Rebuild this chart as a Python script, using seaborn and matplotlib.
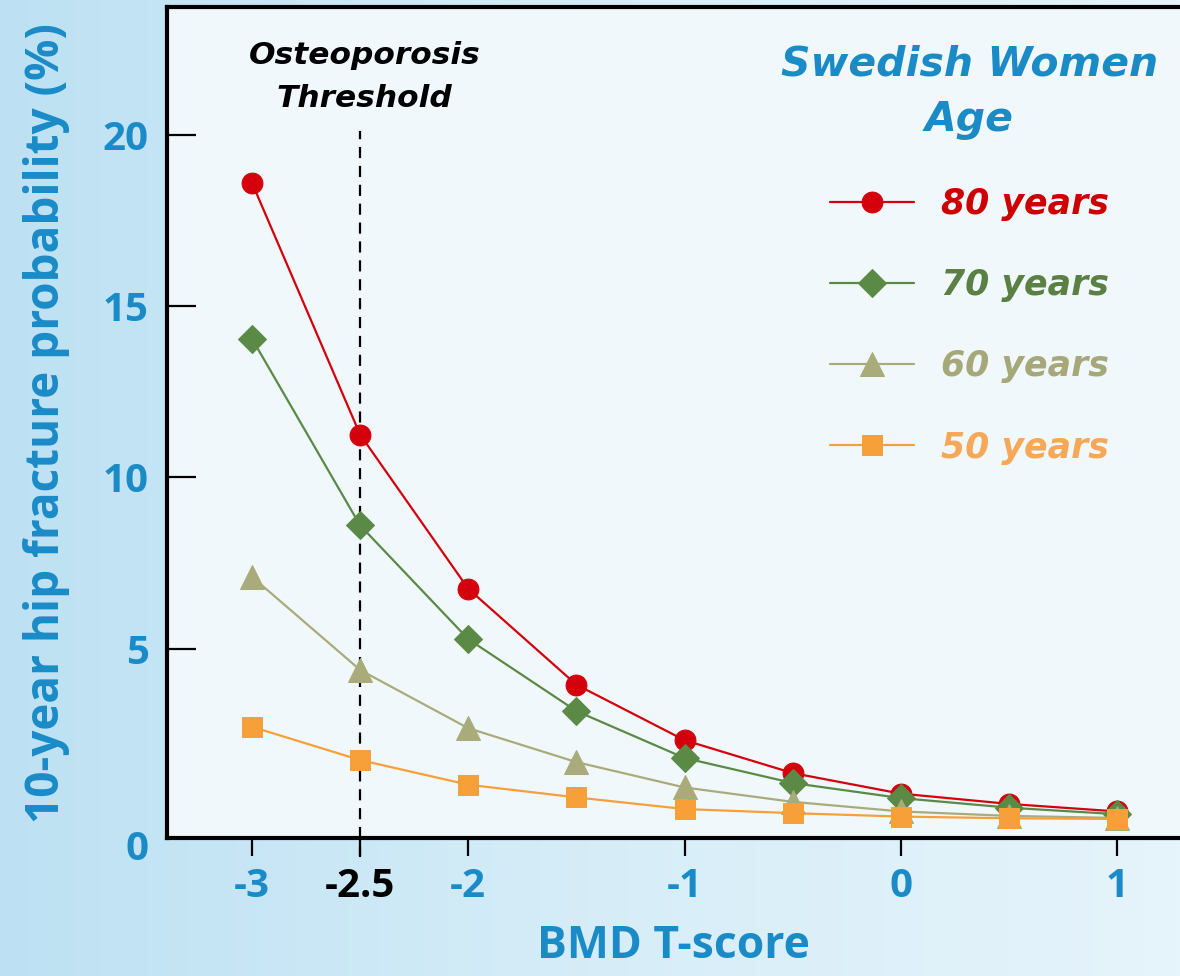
import numpy as np
import pandas as pd
import matplotlib
matplotlib.use("Agg")
import matplotlib.pyplot as plt
import matplotlib.transforms as mtransforms
from matplotlib.colors import LinearSegmentedColormap
import seaborn as sns

# ---- data ----
t_scores = [-3, -2.5, -2, -1.5, -1, -0.5, 0, 0.5, 1]
age_80 = [18.6, 11.25, 6.75, 3.95, 2.33, 1.37, 0.77, 0.47, 0.25]
age_70 = [14.05, 8.6, 5.28, 3.18, 1.81, 1.08, 0.64, 0.36, 0.17]
age_60 = [7.1, 4.38, 2.68, 1.69, 0.95, 0.53, 0.25, 0.12, 0.06]
age_50 = [2.72, 1.75, 1.03, 0.66, 0.32, 0.2, 0.1, 0.05, 0.03]

series_names = ["80 years", "70 years", "60 years", "50 years"]
series_values = [age_80, age_70, age_60, age_50]

x_ticks = [-3, -2.5, -2, -1, 0, 1]
x_tick_labels = ["-3", "-2.5", "-2", "-1", "0", "1"]
y_ticks = [5, 10, 15, 20]
threshold = -2.5

# ---- styling ----
line_colors = ["#d4000c", "#5b8a47", "#a9ab7b", "#f7a03a"]
text_colors = ["#cc0000", "#5a8044", "#a6a87a", "#f5a858"]
markers = ["o", "D", "^", "s"]
marker_sizes = [15, 14, 17, 15]
blue = "#1a8bc7"
FONT = ["Open Sans", "DejaVu Sans"]
ITALIC_FONT = ["DejaVu Sans"]

df = pd.DataFrame({
    "T-score": np.tile(t_scores, len(series_names)),
    "prob": np.concatenate(series_values),
    "age": np.repeat(series_names, len(t_scores)),
})

sns.set_theme(style="white")
plt.rcParams["font.family"] = FONT

fig = plt.figure(figsize=(11.8, 9.76), dpi=100)

# background gradient
bg = fig.add_axes([0, 0, 1, 1], zorder=-10)
grad = np.linspace(0, 1, 256).reshape(1, -1)
cmap_bg = LinearSegmentedColormap.from_list("bg", ["#bde1f3", "#d6edf8", "#e6f4fb"])
bg.imshow(grad, aspect="auto", cmap=cmap_bg, extent=[0, 1, 0, 1])
bg.axis("off")

ax = fig.add_axes([0.1415, 0.1414, 0.8585, 0.8514])
ax.set_facecolor("#f1f8fc")

ymin, ymax = -0.525, 23.73
xmin, xmax = -3.393, 1.291

for name, col, mk, ms in zip(series_names, line_colors, markers, marker_sizes):
    sub = df[df["age"] == name]
    sns.lineplot(data=sub, x="T-score", y="prob", ax=ax, color=col,
                 marker=mk, markersize=ms, markeredgecolor=col,
                 linewidth=1.6, label=name, zorder=3)

# osteoporosis threshold
ax.vlines(threshold, ymin - 0.55, 20.1, colors="black", linestyles=(0, (5, 3.5)),
          linewidth=1.6, clip_on=False, zorder=2)
ax.text(threshold + 0.02, 21.68, "Osteoporosis\nThreshold", ha="center", va="center",
        fontsize=22.5, fontweight="bold", fontstyle="italic", color="black",
        family=ITALIC_FONT, linespacing=1.6)

ax.set_xlim(xmin, xmax)
ax.set_ylim(ymin, ymax)

ax.set_xticks(x_ticks)
ax.set_xticklabels(x_tick_labels)
ax.set_yticks([ymin] + y_ticks)
ax.set_yticklabels(["0"] + [str(v) for v in y_ticks])

ax.tick_params(axis="y", direction="in", length=21, width=1.6, pad=13,
               labelsize=29, labelcolor=blue, color="black", left=True)
ax.tick_params(axis="x", direction="out", length=13, width=1.6, pad=8,
               labelsize=29, labelcolor=blue, color="black", bottom=True)
for lab in ax.get_xticklabels() + ax.get_yticklabels():
    lab.set_fontweight("bold")
for lab in ax.get_xticklabels():
    if lab.get_text() == "-2.5":
        lab.set_color("black")
# the "0" sits a little below the corner
zero_lab = ax.get_yticklabels()[0]
zero_lab.set_transform(zero_lab.get_transform() +
                       mtransforms.ScaledTranslation(0, -7 / 100, fig.dpi_scale_trans))

for side in ["left", "bottom", "top"]:
    ax.spines[side].set_visible(True)
    ax.spines[side].set_color("black")
    ax.spines[side].set_linewidth(3)
ax.spines["right"].set_visible(False)

ax.set_xlabel("BMD T-score", fontsize=32, fontweight="bold", color=blue, labelpad=13)
ax.set_ylabel("10-year hip fracture probability (%)", fontsize=33, fontweight="bold",
              color=blue, labelpad=24)

# legend
handles, labels = ax.get_legend_handles_labels()
leg = ax.legend(handles, labels, title="Swedish Women\nAge", loc="upper right",
                bbox_to_anchor=(0.992, 0.972), frameon=False,
                prop={"family": ITALIC_FONT, "size": 25, "weight": "bold", "style": "italic"},
                title_fontproperties={"family": ITALIC_FONT, "size": 29.5,
                                      "weight": "bold", "style": "italic"},
                handlelength=2.4, handletextpad=0.78,
                labelspacing=1.36, borderaxespad=0)
leg.get_title().set_color(blue)
leg.get_title().set_multialignment("center")
leg.get_title().set_linespacing(1.5)
for txt, col in zip(leg.get_texts(), text_colors):
    txt.set_color(col)

fig.savefig("out.png", dpi=100, facecolor=fig.get_facecolor())
